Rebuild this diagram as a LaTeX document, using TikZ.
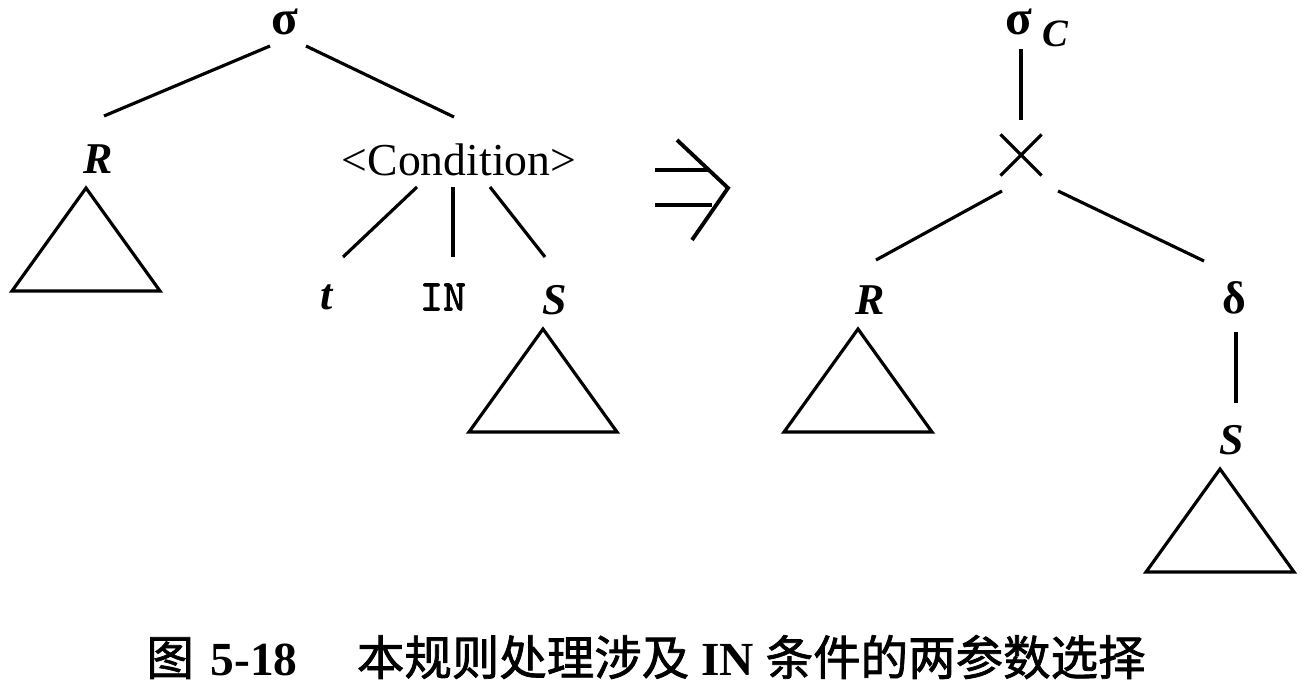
\documentclass[tikz,border=0pt]{standalone}
\usepackage{fontspec}
\setmainfont{Liberation Serif}
\newfontfamily\cjk[AutoFakeBold=1.5]{Noto Sans CJK SC}
\newfontfamily\kwfont[FakeBold=1.6]{lmmono10-regular.otf}
\usetikzlibrary{shapes.misc,positioning}
\tikzstyle{leaf} = [inner sep=1pt, font=\fontsize{12.5}{15}\selectfont\bfseries\itshape]
\tikzstyle{op} = [inner sep=1pt, font=\fontsize{14}{16}\selectfont\bfseries]
\tikzstyle{cond} = [inner sep=1pt, font=\fontsize{13}{15}\selectfont]
\tikzstyle{kw} = [inner sep=1pt, font=\fontsize{12.5}{15}\selectfont\kwfont]
\tikzstyle{prod} = [draw, cross out, minimum size=0.38cm, inner sep=0pt, line width=0.9pt]
\tikzstyle{branch} = [line width=0.9pt]

\begin{document}
\begin{tikzpicture}[x=0.01cm, y=-0.01cm]
		\useasboundingbox (0,0) rectangle (1310,694);
		% left tree
		\node(sigl)[op] at (285,22){σ};
		\node(rl)[leaf] at (98,159){R};
		\node(condl)[cond] at (459,160){<Condition>};
		\node(tl)[leaf] at (327,297){t};
		\node(inl)[kw] at (443,297){IN};
		\node(sl)[leaf] at (555,300){S};
		
		\draw[branch] ([shift={(-15,24)}]sigl.center) -- ([shift={(6,-43)}]rl.center);
		\draw[branch] ([shift={(21,24)}]sigl.center) -- ([shift={(-5,-43)}]condl.center);
		\draw[branch] ([shift={(-42,27)}]condl.center) -- ([shift={(16,-40)}]tl.center);
		\draw[branch] ([shift={(-6,27)}]condl.center) -- ([shift={(10,-40)}]inl.center);
		\draw[branch] ([shift={(31,27)}]condl.center) -- ([shift={(-10,-43)}]sl.center);
		
		% the rewrite arrow
		\draw[line width=1.1pt] (677,140) -- (728,188) -- (692,240);
		\draw[line width=1.1pt] (655,170) -- (709,170);
		\draw[line width=1.1pt] (655,205) -- (712,205);
		
		% right tree
		\node(sigr)[op] at (1019,22){σ};
		\node(subc)[leaf, font=\fontsize{11}{13}\selectfont\bfseries\itshape] at (1055,34){C};
		\node(cross)[prod] at (1021,155){};
		\node(rr)[leaf] at (870,300){R};
		\node(delta)[op, font=\fontsize{13}{15}\selectfont\bfseries] at (1234,298){δ};
		\node(sr)[leaf] at (1232,440){S};
		
		\draw[branch] ([shift={(2,27)}]sigr.center) -- ([shift={(0,-35)}]cross.center);
		\draw[branch] ([shift={(-19,36)}]cross.center) -- ([shift={(6,-40)}]rr.center);
		\draw[branch] ([shift={(37,36)}]cross.center) -- ([shift={(-30,-37)}]delta.center);
		\draw[branch] ([shift={(2,34)}]delta.center) -- ([shift={(4,-37)}]sr.center);
		
		% subtrees
		\foreach \n in {rl,sl,rr,sr}
			\draw[branch] ([shift={(-12,29)}]\n.center) -- ++(74,103) -- ++(-148,0) -- cycle;
		
		\node(caption)[font=\fontsize{13.5}{16}\selectfont] at (646,657){{\cjk\bfseries 图}\hspace{0.35em}\textbf{5-18}\hspace{1.25em}{\cjk\bfseries 本规则处理涉及}\hspace{0.25em}\textbf{IN}\hspace{0.25em}{\cjk\bfseries 条件的两参数选择}};
\end{tikzpicture}
\end{document}
